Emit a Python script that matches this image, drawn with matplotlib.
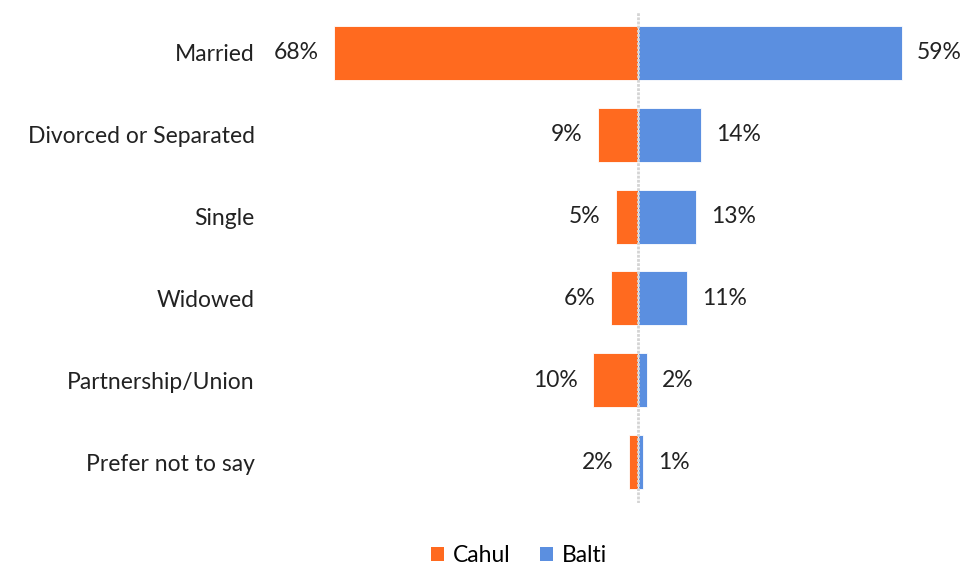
import matplotlib.pyplot as plt
from matplotlib.patches import Patch

plt.rcParams['font.family'] = ['Lato', 'DejaVu Sans']

categories = ["Married", "Divorced or Separated", "Single", "Widowed",
              "Partnership/Union", "Prefer not to say"]
cahul = [68, 9, 5, 6, 10, 2]
balti = [59, 14, 13, 11, 2, 1]

orange = "#FF6A1F"
blue = "#5B8FE0"
fs = 16.5

fig = plt.figure(figsize=(9.63, 5.67), dpi=100)
ax = fig.add_axes([270 / 963, 64 / 567, 690 / 963, 491 / 567])

y = list(range(len(categories)))
ax.barh(y, [-v for v in cahul], height=0.66, color=orange, edgecolor="white", linewidth=0.6)
ax.barh(y, balti, height=0.66, color=blue, edgecolor="white", linewidth=0.6)

ax.axvline(0, color="#D4D4D4", linewidth=2, linestyle=(0, (1, 0.5)), zorder=3)

for yi, c, b in zip(y, cahul, balti):
    ax.annotate(f"{c}%", (-c, yi), xytext=(-11, 0), textcoords="offset points",
                ha="right", va="center", fontsize=fs, color="#222222")
    ax.annotate(f"{b}%", (b, yi), xytext=(11, 0), textcoords="offset points",
                ha="left", va="center", fontsize=fs, color="#222222")

ax.set_xlim(-82.3, 72.0)
ax.set_ylim(len(categories) - 0.5, -0.5)
ax.set_yticks(y)
ax.set_yticklabels(categories, fontsize=fs, color="#222222")
ax.tick_params(axis="y", length=0, pad=11)
ax.set_xticks([])
for s in ax.spines.values():
    s.set_visible(False)

handles = [Patch(facecolor=orange, label="Cahul"), Patch(facecolor=blue, label="Balti")]
fig.legend(handles=handles, loc="center", bbox_to_anchor=(519 / 963, 11 / 567),
           ncol=2, frameon=False, fontsize=fs, handlelength=0.55, handleheight=0.55,
           handletextpad=0.4, columnspacing=1.3)

fig.savefig("out.png", dpi=100)
